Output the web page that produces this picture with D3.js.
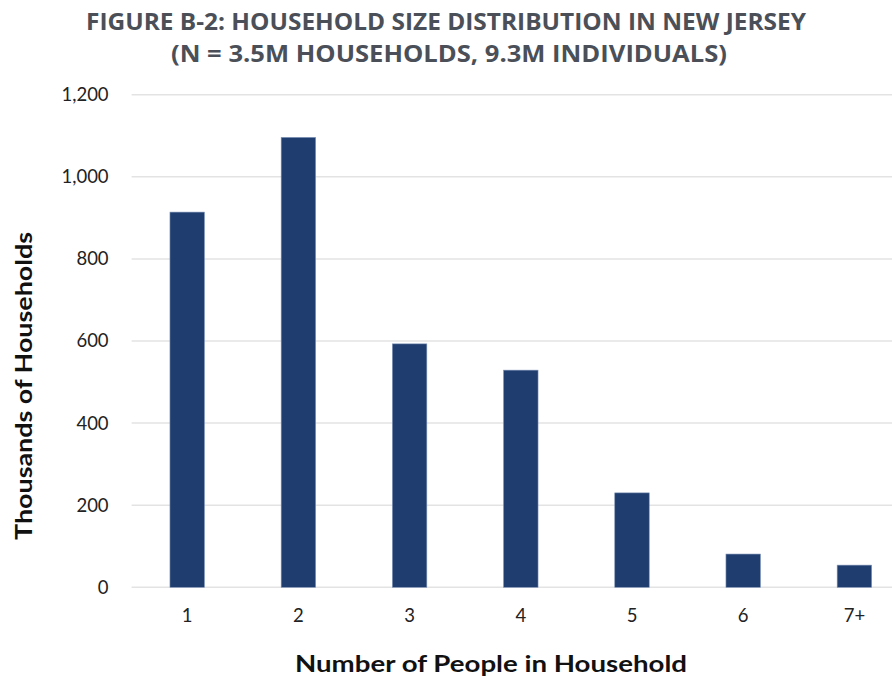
<!DOCTYPE html>
<html>
<head>
<meta charset="utf-8">
<script src="https://cdn.jsdelivr.net/npm/d3@7"></script>
<style>
  html, body { margin: 0; padding: 0; background: #fff; }
  svg { display: block; }
</style>
</head>
<body>
<svg id="chart" width="892" height="677"></svg>
<script>
// Household size categories and counts (thousands of households)
const categories = ["1", "2", "3", "4", "5", "6", "7+"];
const households = [914, 1096, 593, 529, 230, 81, 54];
const yTicks = [0, 200, 400, 600, 800, 1000, 1200];
const titleLines = [
  "FIGURE B-2: HOUSEHOLD SIZE DISTRIBUTION IN NEW JERSEY",
  "(N = 3.5M HOUSEHOLDS, 9.3M INDIVIDUALS)"
];
const xTitle = "Number of People in Household";
const yTitle = "Thousands of Households";

const svg = d3.select("#chart");
const W = 892, H = 677;
const plot = { left: 131.6, right: 910, top: 94.7, bottom: 587.3 };

const x = d3.scaleBand()
  .domain(categories)
  .range([plot.left, plot.right])
  .paddingInner(0.69)
  .paddingOuter(0.345);

const y = d3.scaleLinear()
  .domain([0, 1200])
  .range([plot.bottom, plot.top]);

// Title (condensed bold caps)
const title = svg.append("g")
  .attr("font-family", "'Open Sans', sans-serif")
  .attr("font-weight", 700)
  .attr("fill", "#4b5058")
  .attr("text-anchor", "middle");
title.append("text")
  .attr("x", 446).attr("y", 30)
  .attr("font-size", 23)
  .attr("textLength", 720).attr("lengthAdjust", "spacingAndGlyphs")
  .text(titleLines[0]);
title.append("text")
  .attr("x", 449).attr("y", 62)
  .attr("font-size", 23)
  .attr("textLength", 556).attr("lengthAdjust", "spacingAndGlyphs")
  .text(titleLines[1]);

// Horizontal gridlines
svg.append("g")
  .selectAll("line")
  .data(yTicks)
  .join("line")
  .attr("x1", plot.left).attr("x2", W)
  .attr("y1", d => y(d)).attr("y2", d => y(d))
  .attr("stroke", "#e3e3e3")
  .attr("stroke-width", 1.5);

// Y axis labels
const yAxis = svg.append("g")
  .attr("transform", `translate(${plot.left - 23},0)`)
  .call(d3.axisLeft(y).tickValues(yTicks).tickSize(0).tickPadding(0).tickFormat(d3.format(",")));
yAxis.select(".domain").remove();
yAxis.selectAll("text")
  .attr("font-family", "Lato, 'Open Sans', sans-serif")
  .attr("font-size", 18.5)
  .attr("fill", "#222");

// X axis labels
const xAxis = svg.append("g")
  .attr("transform", `translate(0,${plot.bottom + 22})`)
  .call(d3.axisBottom(x).tickSize(0).tickPadding(0));
xAxis.select(".domain").remove();
xAxis.selectAll("text")
  .attr("font-family", "Lato, 'Open Sans', sans-serif")
  .attr("font-size", 18.5)
  .attr("fill", "#222");

// Bars
svg.append("g")
  .selectAll("rect")
  .data(categories)
  .join("rect")
  .attr("x", d => x(d))
  .attr("width", x.bandwidth())
  .attr("y", (d, i) => y(households[i]))
  .attr("height", (d, i) => y(0) - y(households[i]))
  .attr("fill", "#1f3d6e")
  .attr("stroke", "#7d93b8")
  .attr("stroke-width", 0.6);

// Axis titles
svg.append("text")
  .attr("x", 491).attr("y", 672)
  .attr("text-anchor", "middle")
  .attr("font-family", "Lato, 'Open Sans', sans-serif")
  .attr("font-weight", 700)
  .attr("font-size", 23)
  .attr("fill", "#111")
  .attr("textLength", 392).attr("lengthAdjust", "spacingAndGlyphs")
  .text(xTitle);

svg.append("text")
  .attr("transform", `translate(32,386) rotate(-90)`)
  .attr("text-anchor", "middle")
  .attr("font-family", "Lato, 'Open Sans', sans-serif")
  .attr("font-weight", 700)
  .attr("font-size", 23)
  .attr("fill", "#111")
  .attr("textLength", 308).attr("lengthAdjust", "spacingAndGlyphs")
  .text(yTitle);
</script>
</body>
</html>
